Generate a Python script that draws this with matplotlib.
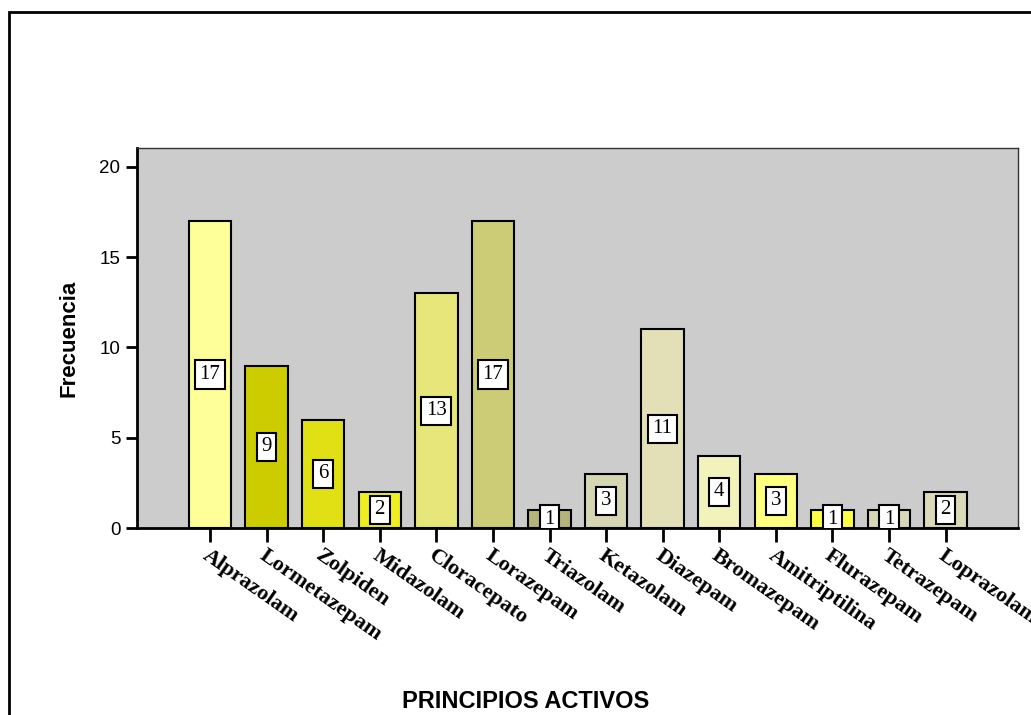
import numpy as np
import matplotlib.pyplot as plt
from matplotlib.patches import Rectangle

# datos
farmacos = ['Alprazolam', 'Lormetazepam', 'Zolpiden', 'Midazolam', 'Cloracepato',
            'Lorazepam', 'Triazolam', 'Ketazolam', 'Diazepam', 'Bromazepam',
            'Amitriptilina', 'Flurazepam', 'Tetrazepam', 'Loprazolam']
frecuencia = [17, 9, 6, 2, 13, 17, 1, 3, 11, 4, 3, 1, 1, 2]
colores = ['#FFFF99', '#CCCC00', '#E0E014', '#EEEE22', '#E6E67A', '#CCCC77', '#B3B37A',
           '#D6D6B3', '#E3E0B8', '#F2F2BB', '#FFFF80', '#FFFF44', '#D6D6B8', '#DADAB8']

fig = plt.figure(figsize=(10.31, 7.15), dpi=100)
ax = fig.add_axes([0.1329, 0.2615, 0.8545, 0.5315])
ax.set_facecolor('#CCCCCC')

x = np.arange(len(farmacos))
ax.bar(x, frecuencia, width=0.75, color=colores, edgecolor='black', linewidth=1.5, zorder=2)

for xi, v in zip(x, frecuencia):
    ax.text(xi, v / 2, str(v), ha='center', va='center', fontsize=15,
            family='Liberation Serif', zorder=3, clip_on=True,
            bbox=dict(boxstyle='square,pad=0.22', fc='white', ec='black', lw=1.5))

ax.set_xlim(-1.29, 14.28)
ax.set_ylim(0, 21.05)
ax.set_yticks([0, 5, 10, 15, 20])
ax.set_xticks(x)
ax.set_xticklabels(farmacos, rotation=-35, ha='left', va='top', rotation_mode='anchor',
                   family='Liberation Serif', fontweight='bold', fontsize=16)
ax.tick_params(axis='x', length=10, width=2, pad=3)
ax.tick_params(axis='y', length=8, width=2, labelsize=13.5, pad=4)
for lbl in ax.get_yticklabels():
    lbl.set_family('Liberation Sans')

for s in ['left', 'bottom']:
    ax.spines[s].set_linewidth(2)
for s in ['top', 'right']:
    ax.spines[s].set_linewidth(1)
    ax.spines[s].set_color('#333333')

ax.set_ylabel('Frecuencia', family='Liberation Sans', fontweight='bold', fontsize=16, labelpad=14)
fig.text(526 / 1031, 1 - 702 / 715, 'PRINCIPIOS ACTIVOS', ha='center', va='center',
         family='Liberation Sans', fontweight='bold', fontsize=17)

# marco exterior
fig.patches.append(Rectangle((9 / 1031, -0.1), 1.1, 1 - 12 / 715 + 0.1, transform=fig.transFigure,
                             fill=False, ec='black', lw=2))

plt.savefig('out.png', dpi=100)
